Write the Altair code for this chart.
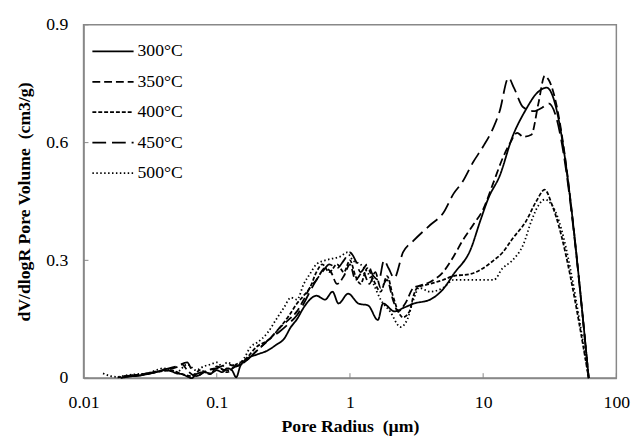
import altair as alt
import pandas as pd

series_names = ["300°C", "350°C", "400°C", "450°C", "500°C"]

x300 = [0.019, 0.022, 0.026, 0.03, 0.035, 0.04, 0.045, 0.05, 0.055, 0.06, 0.065, 0.07, 0.08, 0.09, 0.1, 0.11, 0.12, 0.13, 0.14, 0.15, 0.17, 0.2, 0.24, 0.28, 0.32, 0.36, 0.4, 0.45, 0.5, 0.56, 0.65, 0.74, 0.82, 0.97, 1.16, 1.37, 1.62, 1.77, 2.16, 2.56, 3.03, 4.0, 5.1, 6.0, 8.1, 9.5, 11.0, 13.3, 16.6, 20.6, 26.0, 30.0, 62.0]
y300 = [0.0, 0.004, 0.006, 0.01, 0.015, 0.02, 0.018, 0.012, 0.01, 0.004, 0.0, 0.01, 0.015, 0.012, 0.02, 0.015, 0.025, 0.02, 0.002, 0.03, 0.05, 0.06, 0.07, 0.085, 0.1, 0.13, 0.15, 0.18, 0.2, 0.21, 0.2, 0.22, 0.19, 0.215, 0.19, 0.185, 0.148, 0.19, 0.17, 0.18, 0.19, 0.2, 0.23, 0.265, 0.33, 0.40, 0.46, 0.515, 0.615, 0.68, 0.73, 0.74, 0.0]

x350 = [0.02, 0.03, 0.04, 0.05, 0.055, 0.06, 0.07, 0.08, 0.1, 0.12, 0.14, 0.16, 0.2, 0.25, 0.3, 0.35, 0.4, 0.45, 0.5, 0.56, 0.65, 0.72, 0.8, 0.9, 1.0, 1.1, 1.25, 1.4, 1.55, 1.7, 1.9, 2.1, 2.3, 2.6, 3.0, 3.3, 4.0, 5.0, 6.0, 7.0, 8.4, 10.0, 12.0, 14.0, 16.0, 18.0, 20.0, 23.0, 26.0, 29.0, 31.0, 62.0]
y350 = [0.003, 0.01, 0.02, 0.028, 0.035, 0.02, 0.005, 0.015, 0.025, 0.02, 0.03, 0.04, 0.07, 0.1, 0.13, 0.15, 0.17, 0.2, 0.23, 0.25, 0.28, 0.27, 0.24, 0.26, 0.29, 0.25, 0.27, 0.24, 0.27, 0.23, 0.25, 0.2, 0.17, 0.19, 0.23, 0.235, 0.245, 0.27, 0.31, 0.35, 0.39, 0.43, 0.5, 0.56, 0.6, 0.625, 0.615, 0.62, 0.7, 0.77, 0.76, 0.0]

x400 = [0.018, 0.025, 0.035, 0.045, 0.055, 0.065, 0.075, 0.09, 0.1, 0.12, 0.14, 0.16, 0.2, 0.25, 0.3, 0.35, 0.4, 0.45, 0.5, 0.56, 0.62, 0.7, 0.8, 0.9, 1.0, 1.1, 1.2, 1.35, 1.5, 1.7, 1.9, 2.1, 2.3, 2.5, 2.8, 3.0, 3.2, 4.0, 5.0, 6.0, 8.0, 10.0, 12.0, 14.0, 16.6, 21.0, 25.0, 29.0, 33.0, 62.0]
y400 = [0.002, 0.008, 0.015, 0.02, 0.01, 0.005, 0.02, 0.01, 0.03, 0.015, 0.035, 0.045, 0.08, 0.1, 0.13, 0.16, 0.19, 0.21, 0.23, 0.27, 0.29, 0.27, 0.29, 0.27, 0.3, 0.26, 0.24, 0.28, 0.25, 0.22, 0.26, 0.21, 0.17, 0.155, 0.17, 0.21, 0.23, 0.24, 0.25, 0.26, 0.265, 0.28, 0.3, 0.32, 0.355, 0.4, 0.45, 0.48, 0.44, 0.0]

x450 = [0.02, 0.03, 0.04, 0.05, 0.06, 0.065, 0.07, 0.085, 0.1, 0.12, 0.14, 0.16, 0.2, 0.25, 0.3, 0.35, 0.4, 0.45, 0.5, 0.56, 0.62, 0.7, 0.8, 0.9, 1.0, 1.1, 1.2, 1.35, 1.5, 1.65, 1.8, 1.95, 2.15, 2.5, 3.0, 4.0, 5.0, 6.0, 7.0, 8.4, 10.0, 12.0, 13.3, 15.5, 17.0, 20.0, 24.0, 28.0, 31.0, 62.0]
y450 = [0.005, 0.012, 0.022, 0.03, 0.04, 0.02, 0.005, 0.02, 0.025, 0.035, 0.03, 0.04, 0.07, 0.1, 0.12, 0.14, 0.16, 0.19, 0.22, 0.25, 0.27, 0.29, 0.28, 0.3, 0.32, 0.3, 0.27, 0.29, 0.26, 0.25, 0.3, 0.28, 0.255, 0.32, 0.35, 0.39, 0.42, 0.47, 0.5, 0.55, 0.59, 0.64, 0.68, 0.765, 0.74, 0.69, 0.68, 0.69, 0.7, 0.0]

x500 = [0.014, 0.016, 0.018, 0.02, 0.025, 0.03, 0.035, 0.04, 0.045, 0.05, 0.06, 0.07, 0.08, 0.09, 0.1, 0.11, 0.12, 0.13, 0.14, 0.16, 0.18, 0.2, 0.24, 0.28, 0.32, 0.36, 0.4, 0.45, 0.5, 0.56, 0.65, 0.75, 0.85, 0.95, 1.05, 1.2, 1.35, 1.5, 1.7, 2.0, 2.4, 2.7, 3.0, 3.3, 4.0, 5.0, 6.0, 8.0, 10.0, 12.0, 14.0, 16.6, 20.0, 23.0, 26.0, 29.0, 33.0, 62.0]
y500 = [0.012, 0.005, 0.003, 0.006, 0.01, 0.012, 0.02, 0.025, 0.02, 0.015, 0.035, 0.02, 0.03, 0.035, 0.04, 0.03, 0.04, 0.035, 0.03, 0.05, 0.08, 0.09, 0.115, 0.15, 0.18, 0.205, 0.2, 0.24, 0.265, 0.29, 0.3, 0.305, 0.31, 0.32, 0.3, 0.29, 0.27, 0.24, 0.2, 0.17, 0.13, 0.15, 0.2, 0.23, 0.22, 0.23, 0.25, 0.25, 0.25, 0.25, 0.28, 0.3, 0.34, 0.4, 0.44, 0.455, 0.44, 0.0]

x_ticks = [0.01, 0.1, 1, 10, 100]
y_ticks = [0, 0.3, 0.6, 0.9]

dash_patterns = [[1, 0], [8, 4], [4, 2], [14, 6], [1.5, 2.5]]

rows = []
for name, xs, ys in zip(series_names,
                        [x300, x350, x400, x450, x500],
                        [y300, y350, y400, y450, y500]):
    for xv, yv in zip(xs, ys):
        rows.append({"series": name, "radius": xv, "volume": yv})
df = pd.DataFrame(rows)

W, H = 543, 360
FONT = "Liberation Serif"

xscale = alt.Scale(type="log", domain=[0.01, 100])
yscale = alt.Scale(domain=[0, 0.9])
xaxis = alt.Axis(title="Pore Radius \u00a0(µm)", values=x_ticks, format="~g", grid=False,
                 ticks=False, labelFlush=False, labelPadding=16, titlePadding=6)
yaxis = alt.Axis(title="dV/dlogR Pore Volume \u00a0(cm3/g)", values=y_ticks, format="~g",
                 grid=False, ticks=False, labelFlush=False, labelPadding=16, titlePadding=13)

lines = alt.Chart(df).mark_line(color="black", strokeWidth=1.8, interpolate="monotone").encode(
    x=alt.X("radius:Q", scale=xscale, axis=xaxis),
    y=alt.Y("volume:Q", scale=yscale, axis=yaxis),
    strokeDash=alt.StrokeDash("series:N",
                              scale=alt.Scale(domain=series_names, range=dash_patterns),
                              legend=alt.Legend(title=None, orient="none", legendX=8, legendY=5,
                                                symbolType="stroke", symbolSize=1764,
                                                symbolStrokeColor="black", symbolStrokeWidth=1.8,
                                                labelFontSize=18, labelFont=FONT, labelColor="black",
                                                labelOffset=3, rowPadding=-6)),
    detail="series:N",
    order="radius:Q",
)

xt = alt.Chart(pd.DataFrame({"radius": x_ticks})).mark_rule(color="#888", strokeWidth=1).encode(
    x=alt.X("radius:Q", scale=xscale, axis=xaxis),
    y=alt.value(H), y2=alt.value(H - 5),
)
yt = alt.Chart(pd.DataFrame({"volume": y_ticks})).mark_rule(color="#888", strokeWidth=1).encode(
    y=alt.Y("volume:Q", scale=yscale, axis=yaxis),
    x=alt.value(0), x2=alt.value(5),
)

chart = alt.layer(lines, xt, yt).properties(
    width=W, height=H,
    padding={"left": 7, "top": 4, "right": 5, "bottom": 5},
).configure(font=FONT).configure_view(
    stroke="#888", strokeWidth=1.5
).configure_axis(
    domainColor="#888", domainWidth=1.5,
    labelFont=FONT, labelFontSize=18, labelColor="black",
    titleFont=FONT, titleFontSize=18, titleFontWeight="bold", titleColor="black",
)

chart.save("out.html", embed_options={"renderer": "svg", "actions": False})
